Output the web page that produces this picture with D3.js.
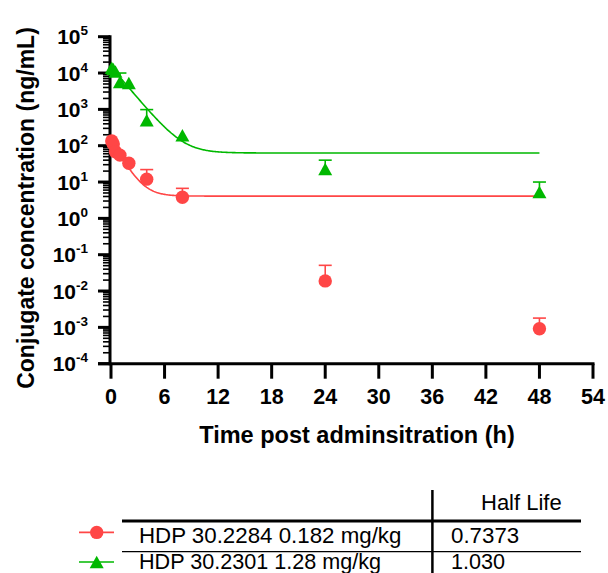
<!DOCTYPE html>
<html><head><meta charset="utf-8">
<script src="https://cdn.jsdelivr.net/npm/d3@7"></script>
<style>body{margin:0;background:#fff}svg{display:block}text{font-family:"Liberation Sans",Arial,sans-serif}</style>
</head><body><svg id="c" width="608" height="573"></svg>
<script>
// ---- data ----
const xTicks = [0, 6, 12, 18, 24, 30, 36, 42, 48, 54];
const yExponents = [5, 4, 3, 2, 1, 0, -1, -2, -3, -4];
const times = [0.083, 0.25, 0.5, 1, 2, 4, 8, 24, 48];
const redMean  = [135, 112, 68, 55, 33, 12, 3.8, 0.019, 0.00092];
const redUpper = [null, null, null, null, null, 22, 6.7, 0.051, 0.0018];
const greenMean  = [14000, 13000, 11000, 5700, 5300, 500, 195, 23, 5.3];
const greenUpper = [null, null, null, 10000, null, 985, null, 40, 10];
// one-phase decay fits: [Y0, plateau, half-life]
const redFit = [135, 4.1, 0.7373];
const greenFit = [15000, 63, 1.030];
const seriesNames = ["HDP 30.2284 0.182 mg/kg", "HDP 30.2301 1.28 mg/kg"];
const halfLives = ["0.7373", "1.030"];
const xTitle = "Time post adminsitration (h)";
const yTitle = "Conjugate concentration (ng/mL)";

const RED = "#ff4646", GREEN = "#00b800";
const svg = d3.select("#c");
const x = d3.scaleLinear().domain([0, 54]).range([111, 593]);
const y = d3.scaleLog().domain([1e-4, 1e5]).range([363.7, 36.7]);

function txt(g, px, py, str, size, weight, anchor) {
  return g.append("text").attr("x", px).attr("y", py)
    .attr("text-anchor", anchor).attr("font-size", size).attr("font-weight", weight)
    .attr("fill", "#000").text(str);
}

// ---- axes ----
const ax = svg.append("g");
ax.append("line").attr("x1", 110).attr("x2", 110).attr("y1", y(1e5) - 1.5).attr("y2", y(1e-4) + 1.5)
  .attr("stroke", "#000").attr("stroke-width", 3);
ax.append("line").attr("x1", 98).attr("x2", x(54) + 1.5).attr("y1", y(1e-4)).attr("y2", y(1e-4))
  .attr("stroke", "#000").attr("stroke-width", 3);
yExponents.forEach(e => {
  const yy = y(Math.pow(10, e));
  ax.append("line").attr("x1", 98).attr("x2", 110).attr("y1", yy).attr("y2", yy)
    .attr("stroke", "#000").attr("stroke-width", 3);
  const t = ax.append("text").attr("x", 88).attr("y", yy + 7.5)
    .attr("text-anchor", "end").attr("font-size", 21).attr("font-weight", "bold");
  t.append("tspan").text("10");
  t.append("tspan").attr("font-size", 13.5).attr("dy", -9).text(String(e));
});
for (let e = -4; e < 5; e++) {
  for (let m = 2; m <= 9; m++) {
    const yy = y(m * Math.pow(10, e));
    ax.append("line").attr("x1", 103).attr("x2", 110).attr("y1", yy).attr("y2", yy)
      .attr("stroke", "#000").attr("stroke-width", 1.6);
  }
}
xTicks.forEach(v => {
  const xx = x(v);
  ax.append("line").attr("x1", xx).attr("x2", xx).attr("y1", y(1e-4)).attr("y2", y(1e-4) + 15)
    .attr("stroke", "#000").attr("stroke-width", 3);
  txt(ax, xx, 403.5, String(v), 21.5, "bold", "middle");
});
txt(ax, 357, 443, xTitle, 23.5, "bold", "middle");
ax.append("text").attr("transform", "translate(33.5,208) rotate(-90)")
  .attr("text-anchor", "middle").attr("font-size", 23).attr("font-weight", "bold").text(yTitle);

// ---- fits ----
function fitLine(p, color) {
  const [y0, pl, hl] = p, k = Math.LN2 / hl;
  const ts = d3.range(0, 48.001, 0.1);
  const line = d3.line().x(t => x(t)).y(t => y((y0 - pl) * Math.exp(-k * t) + pl));
  svg.append("path").attr("d", line(ts)).attr("fill", "none").attr("stroke", color).attr("stroke-width", 1.6);
}
fitLine(greenFit, GREEN);
fitLine(redFit, RED);

// ---- error bars + markers ----
function errBars(means, ups, color) {
  times.forEach((t, i) => {
    if (ups[i] == null) return;
    const xx = x(t);
    svg.append("line").attr("x1", xx).attr("x2", xx).attr("y1", y(means[i])).attr("y2", y(ups[i]))
      .attr("stroke", color).attr("stroke-width", 1.6);
    svg.append("line").attr("x1", xx - 6.5).attr("x2", xx + 6.5).attr("y1", y(ups[i])).attr("y2", y(ups[i]))
      .attr("stroke", color).attr("stroke-width", 1.6);
  });
}
const tri = (w, h) => `M0,${-h / 2}L${w / 2},${h / 2}L${-w / 2},${h / 2}Z`;
errBars(greenMean, greenUpper, GREEN);
errBars(redMean, redUpper, RED);
svg.append("g").selectAll("path").data(times).join("path")
  .attr("transform", (t, i) => `translate(${x(t)},${y(greenMean[i])})`)
  .attr("d", tri(14, 12.5)).attr("fill", GREEN);
svg.append("g").selectAll("circle").data(times).join("circle")
  .attr("cx", t => x(t)).attr("cy", (t, i) => y(redMean[i])).attr("r", 6.7).attr("fill", RED);

// ---- legend table ----
const lg = svg.append("g");
lg.append("line").attr("x1", 432.4).attr("x2", 432.4).attr("y1", 490).attr("y2", 573).attr("stroke", "#000").attr("stroke-width", 2.5);
lg.append("line").attr("x1", 122).attr("x2", 581).attr("y1", 521).attr("y2", 521).attr("stroke", "#000").attr("stroke-width", 2.8);
lg.append("line").attr("x1", 122).attr("x2", 581).attr("y1", 551.7).attr("y2", 551.7).attr("stroke", "#000").attr("stroke-width", 1.2);
txt(lg, 481, 509.7, "Half Life", 22, "normal", "start");
const rowY = [542.5, 568.5], rowSize = [22.3, 21.6], symY = [532.4, 562], cols = [RED, GREEN];
seriesNames.forEach((n, i) => {
  txt(lg, 139, rowY[i], n, rowSize[i], "normal", "start");
  txt(lg, 451, rowY[i], halfLives[i], rowSize[i], "normal", "start");
  lg.append("line").attr("x1", 79).attr("x2", 114).attr("y1", symY[i]).attr("y2", symY[i]).attr("stroke", cols[i]).attr("stroke-width", 1.6);
});
lg.append("circle").attr("cx", 96.7).attr("cy", symY[0]).attr("r", 6.7).attr("fill", RED);
lg.append("path").attr("transform", `translate(96.7,${symY[1]})`).attr("d", tri(14, 12.5)).attr("fill", GREEN);
</script></body></html>
